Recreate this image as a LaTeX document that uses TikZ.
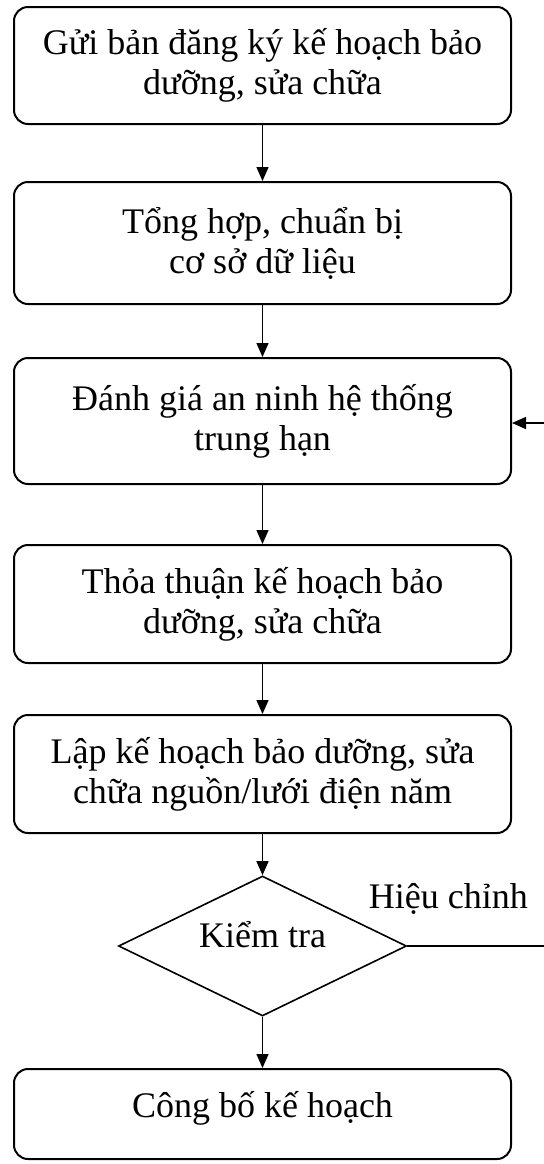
\documentclass[tikz,border=0pt]{standalone}
\usepackage{fontspec}
\setmainfont{Liberation Serif}
\usetikzlibrary{arrows.meta, positioning, shapes.geometric}

\tikzset{
    stagebox/.style = {rectangle, draw, rounded corners=7pt, line width=1pt,
        minimum width=248.5pt, align=center,
        font=\fontsize{18}{20}\selectfont},
    checkbox/.style = {diamond, draw, line width=0.8pt, aspect=2, inner sep=0pt,
        minimum width=144pt, minimum height=70pt,
        font=\fontsize{18}{20}\selectfont}
}

\begin{document}
\begin{tikzpicture} [x=1pt, y=1pt,
            node distance = 88pt,
            on grid,
            auto]

            \useasboundingbox (0,0) rectangle (272,-582);

            % Register
            \node (reg) [stagebox,
                minimum height=58.5pt] at (131.25,-32.75)
                {Gửi bản đăng ký kế hoạch bảo\\dưỡng, sửa chữa};

            % Collect data
            \node (data) [stagebox,
                minimum height=61pt,
                below = 88.75pt of reg] {Tổng hợp, chuẩn bị\\cơ sở dữ liệu};

            % Security assessment
            \node (eval) [stagebox,
                minimum height=63pt,
                below = 89pt of data] {Đánh giá an ninh hệ thống\\trung hạn};

            % Agreement
            \node (agree) [stagebox,
                minimum height=59pt,
                below = 91.5pt of eval] {Thỏa thuận kế hoạch bảo\\dưỡng, sửa chữa};

            % Yearly plan
            \node (plan) [stagebox,
                minimum height=59pt,
                below = 85pt of agree] {Lập kế hoạch bảo dưỡng, sửa\\chữa nguồn/lưới điện năm};

            % Check
            \node (check) [checkbox,
                text height=13pt, text depth=12pt,
                below = 86pt of plan] {Kiểm tra};

            % Publish
            \node (pub) [stagebox,
                minimum height=45pt,
                text height=13pt, text depth=10pt,
                below = 84pt of check] {Công bố kế hoạch};

            % Feedback ends
            \coordinate (fbin) at (272,-211.5);
            \coordinate (fbout) at (272,-473);

            % Arrows
            \path [-{Triangle[length=7pt, width=6pt]}, line width=0.7pt]
                (reg)   edge (data)
                (data)  edge (eval)
                (eval)  edge (agree)
                (agree) edge (plan)
                (plan)  edge (check)
                (check) edge (pub)
                (fbin)  edge (fbin -| eval.east);

            \draw [line width=0.7pt] (check.east) -- node [pos=0.3, above, yshift=12pt,
                font=\fontsize{18}{20}\selectfont] {Hiệu chỉnh} (fbout);
        \end{tikzpicture}
\end{document}
